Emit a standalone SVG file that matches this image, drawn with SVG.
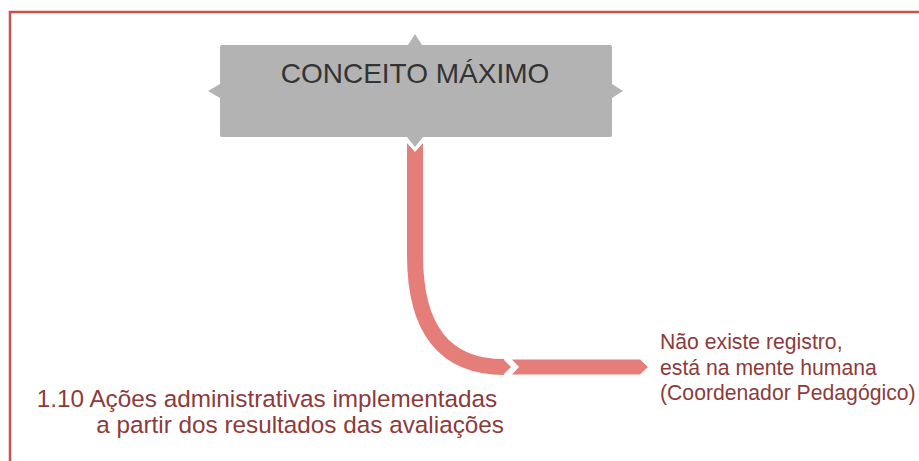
<svg xmlns="http://www.w3.org/2000/svg" width="919" height="461" viewBox="0 0 919 461">
  <style>
    .frame { fill: none; stroke: #c9524f; stroke-width: 2.5; }
    .box { fill: #b3b3b3; }
    .title { font-family: "Liberation Sans", Arial, sans-serif; font-size: 28px; fill: #333333; }
    .lbl { font-family: "Liberation Sans", Arial, sans-serif; fill: #8c3b3b; }
    .conn { fill: none; stroke: #e57d78; stroke-width: 16; }
    .connfill { fill: #e57d78; }
  </style>
  <rect width="919" height="461" fill="#ffffff"/>
  <path class="frame" d="M10,461 L10,12 L919,12"/>

  <g id="connectors">
    <path class="conn" d="M415,143 L415,255 C415,330 445,367 504,367"/>
    <polygon fill="#ffffff" points="405,141 425,141 415,152"/>
    <polygon class="connfill" points="503,359 511,367 503,375"/>
    <polygon class="connfill" points="512,359.5 640,359.5 648,367 640,374.5 512,374.5 519,367"/>
  </g>

  <g id="node-conceito">
    <path class="box" d="M222,45 L408,45 L415,34 L422,45 L610,45 Q612,45 612,47 L612,84 L623,91 L612,98 L612,135 Q612,137 610,137 L423,137 L415,147 L407,137 L222,137 Q220,137 220,135 L220,98 L208,91 L220,84 L220,47 Q220,45 222,45 Z"/>
    <text class="title" x="415" y="83" text-anchor="middle">CONCEITO MÁXIMO</text>
  </g>

  <g id="node-acoes">
    <text class="lbl" font-size="24.3" text-anchor="end">
      <tspan x="504" y="407">1.10 Ações administrativas implementadas</tspan>
      <tspan x="504" y="433">a partir dos resultados das avaliações</tspan>
    </text>
  </g>

  <g id="node-registro">
    <text class="lbl" font-size="21.2">
      <tspan x="660" y="349">Não existe registro,</tspan>
      <tspan x="660" y="375">está na mente humana</tspan>
      <tspan x="660" y="400">(Coordenador Pedagógico)</tspan>
    </text>
  </g>
</svg>
